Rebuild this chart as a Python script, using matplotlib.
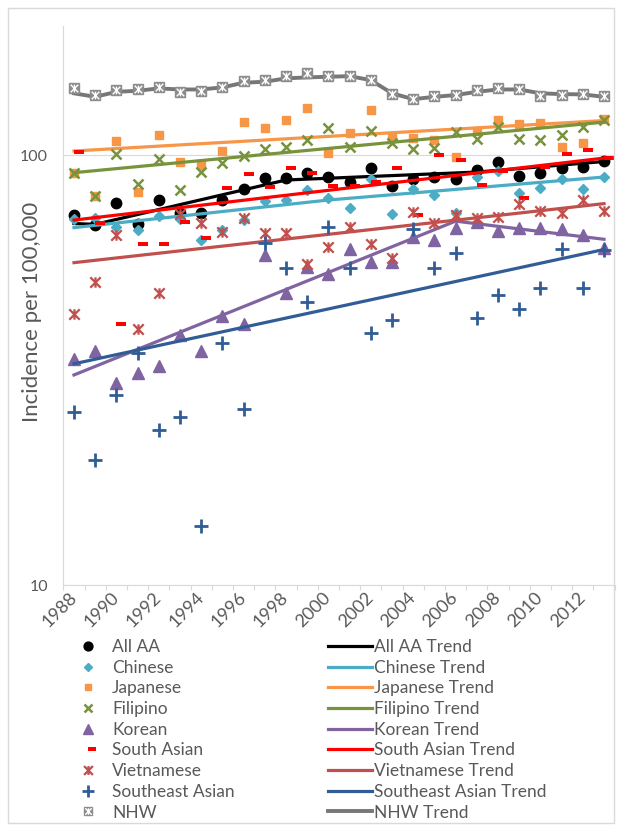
import matplotlib
matplotlib.use('Agg')
import matplotlib.pyplot as plt
from matplotlib.path import Path
from matplotlib.patches import Rectangle
from matplotlib.legend_handler import HandlerTuple
from matplotlib.ticker import NullLocator

plt.rcParams['font.family'] = ['Lato', 'DejaVu Sans']

years = list(range(1988, 2014))

# incidence per 100,000 by year
all_aa = [72.5, 68.8, 77.4, 69.0, 78.6, 73.4, 73.4, 78.6, 83.2, 88.3, 88.3, 91.0, 89.0,
          86.7, 93.1, 84.7, 87.8, 88.7, 87.8, 92.3, 96.5, 89.4, 90.7, 93.1, 93.6, 97.0]
chinese = [70.9, 71.2, 68.1, 66.9, 72.1, 70.9, 63.4, 66.9, 70.6, 78.2, 78.6, 82.9, 79.3,
           75.3, 88.2, 73.1, 83.4, 80.7, 73.3, 89.0, 91.8, 81.6, 83.7, 87.8, 83.4, 88.9]
japanese = [91.0, 80.3, 108.0, 82.2, 111.3, 96.2, 94.8, 102.3, 119.5, 115.4, 120.6, 128.4, 100.9,
            112.7, 127.3, 109.5, 109.4, 108.4, 98.8, 113.7, 120.6, 118.1, 118.9, 104.5, 106.5, 121.1]
filipino = [91.0, 80.3, 100.5, 85.6, 97.7, 82.9, 91.4, 95.7, 99.5, 103.1, 104.2, 108.4, 115.4,
            104.5, 113.7, 106.5, 103.1, 103.7, 113.3, 108.8, 116.4, 108.8, 108.4, 111.3, 116.4, 120.6]
korean = [33.5, 35.1, 29.5, 31.2, 32.3, 38.2, 35.1, 42.2, 40.5, 58.6, 47.8, 55.0, 52.9,
          60.4, 56.5, 56.5, 64.4, 63.4, 67.8, 69.8, 66.6, 67.5, 67.7, 67.3, 65.1, 60.9]
south_asian = [101.8, 69.4, 40.4, 62.1, 62.1, 69.8, 64.1, 83.9, 90.2, 84.4, 93.1, 90.7, 84.7,
               84.7, 86.4, 93.1, 72.5, 100.0, 97.5, 85.4, 91.7, 79.3, 93.8, 100.5, 102.5, 98.2]
vietnamese = [42.7, 50.7, 65.2, 39.3, 47.7, 72.9, 69.4, 66.3, 71.4, 66.0, 66.0, 55.8, 61.2,
              68.1, 62.1, 57.5, 73.7, 69.5, 72.5, 71.2, 71.9, 76.9, 74.1, 73.3, 78.7, 74.2]
se_asian = [25.2, 19.5, 27.6, 34.6, 22.9, 24.6, 13.7, 36.5, 25.6, 62.5, 54.5, 45.6, 68.0,
            54.5, 38.5, 41.3, 67.3, 54.5, 59.3, 41.7, 47.3, 43.8, 49.0, 60.4, 49.0, 60.1]
nhw = [142.9, 137.9, 141.6, 142.1, 144.1, 140.3, 141.1, 144.1, 148.6, 149.4, 152.6, 154.9, 152.6,
       152.6, 149.4, 138.6, 134.9, 137.4, 137.9, 141.6, 142.9, 142.1, 137.2, 137.9, 138.6, 137.2]

# fitted trends (joinpoint years and fitted rates)
aa_trend_x = [1988, 1989, 1998, 2007, 2013]
aa_trend_y = [69.3, 69.0, 87.5, 91.3, 96.6]
chinese_trend_x = [1988, 2000, 2013]
chinese_trend_y = [67.8, 78.6, 88.9]
japanese_trend_x = [1988, 2013]
japanese_trend_y = [102.2, 120.3]
filipino_trend_x = [1988, 2013]
filipino_trend_y = [91.0, 119.3]
korean_trend_x = [1988, 2006, 2013]
korean_trend_y = [30.8, 70.2, 63.7]
south_asian_trend_x = [1988, 2013]
south_asian_trend_y = [70.6, 98.4]
vietnamese_trend_x = [1988, 2013]
vietnamese_trend_y = [56.2, 77.1]
se_asian_trend_x = [1988, 2013]
se_asian_trend_y = [32.7, 60.3]
nhw_trend = [139.2, 136.6, 140.3, 141.1, 142.9, 142.1, 142.1, 143.7, 147.3, 148.1, 150.8, 151.6, 152.1,
             152.6, 149.4, 139.2, 134.9, 136.6, 137.9, 140.3, 142.1, 142.1, 139.2, 138.6, 138.4, 136.6]

TXT = '#595959'
GRID = '#D9D9D9'

# short bar marker sitting to the right of the point
dash = Path([(0, -0.2), (1, -0.2), (1, 0.2), (0, 0.2), (0, -0.2)],
            [Path.MOVETO, Path.LINETO, Path.LINETO, Path.LINETO, Path.CLOSEPOLY])
# asterisk: X plus vertical stroke
star = Path([(-1, -1), (1, 1), (-1, 1), (1, -1), (0, -1), (0, 1)],
            [Path.MOVETO, Path.LINETO, Path.MOVETO, Path.LINETO, Path.MOVETO, Path.LINETO])

fig = plt.figure(figsize=(6.22, 8.27), dpi=100)
ax = fig.add_axes([0.1019, 0.2926, 0.8862, 0.6764])

lw = 2.3
pts, trends = [], []

h, = ax.plot(years, all_aa, ls='none', marker='o', ms=7.5, color='black', label='All AA')
pts.append(h)
h, = ax.plot(aa_trend_x, aa_trend_y, color='black', lw=lw, label='All AA Trend')
trends.append(h)

h, = ax.plot(years, chinese, ls='none', marker='D', ms=5.3, color='#4BACC6', label='Chinese')
pts.append(h)
h, = ax.plot(chinese_trend_x, chinese_trend_y, color='#4BACC6', lw=lw, label='Chinese Trend')
trends.append(h)

h, = ax.plot(years, japanese, ls='none', marker='s', ms=5.8, color='#F79646', label='Japanese')
pts.append(h)
h, = ax.plot(japanese_trend_x, japanese_trend_y, color='#F79646', lw=lw, label='Japanese Trend')
trends.append(h)

h, = ax.plot(years, filipino, ls='none', marker='x', ms=7.5, mew=1.8, color='#77933C', label='Filipino')
pts.append(h)
h, = ax.plot(filipino_trend_x, filipino_trend_y, color='#77933C', lw=lw, label='Filipino Trend')
trends.append(h)

h, = ax.plot(years, korean, ls='none', marker='^', ms=8, color='#8064A2', label='Korean')
pts.append(h)
h, = ax.plot(korean_trend_x, korean_trend_y, color='#8064A2', lw=lw, label='Korean Trend')
trends.append(h)

h, = ax.plot(years, south_asian, ls='none', marker=dash, ms=13.7, mew=0, color='#FF0000', label='South Asian')
pts.append(h)
h, = ax.plot(south_asian_trend_x, south_asian_trend_y, color='#FF0000', lw=lw, label='South Asian Trend')
trends.append(h)

h, = ax.plot(years, vietnamese, ls='none', marker=star, ms=7.5, mew=1.6, mfc='none',
             color='#C0504D', label='Vietnamese')
pts.append(h)
h, = ax.plot(vietnamese_trend_x, vietnamese_trend_y, color='#C0504D', lw=lw, label='Vietnamese Trend')
trends.append(h)

h, = ax.plot(years, se_asian, ls='none', marker='+', ms=9.5, mew=2.0, color='#315D96', label='Southeast Asian')
pts.append(h)
h, = ax.plot(se_asian_trend_x, se_asian_trend_y, color='#315D96', lw=lw, label='Southeast Asian Trend')
trends.append(h)

h1, = ax.plot(years, nhw, ls='none', marker='s', ms=7.2, color='#8C8C8C')
h2, = ax.plot(years, nhw, ls='none', marker=star, ms=5.5, mew=1.0, mfc='none', color='white')
pts.append((h1, h2))
h, = ax.plot(years, nhw_trend, color='#777777', lw=2.8, label='NHW Trend', zorder=1.9)
trends.append(h)

ax.set_yscale('log')
ax.set_ylim(10, 200)
ax.set_yticks([10, 100], ['10', '100'])
ax.yaxis.set_minor_locator(NullLocator())
ax.set_xlim(1987.5, 2013.5)
ax.set_xticks(years[::2], [str(y) for y in years[::2]])
ax.set_xticks([y - 0.5 for y in years] + [2013.5], minor=True)

ax.tick_params(axis='y', length=0, pad=11, labelsize=11.5, labelcolor=TXT)
ax.tick_params(axis='x', which='major', length=0, pad=7, labelsize=13, labelcolor=TXT)
ax.tick_params(axis='x', which='minor', length=3.5, color=GRID, width=0.8)
for lab in ax.get_xticklabels():
    lab.set_rotation(45)
    lab.set_ha('right')
    lab.set_va('center')
    lab.set_rotation_mode('anchor')

ax.yaxis.grid(True, color=GRID, lw=0.8)
ax.set_axisbelow(True)
for s in ['top', 'right']:
    ax.spines[s].set_visible(False)
for s in ['left', 'bottom']:
    ax.spines[s].set_color(GRID)
    ax.spines[s].set_linewidth(0.8)

fig.text(32 / 622, 1 - 312 / 827, 'Incidence per 100,000', rotation=90,
         ha='center', va='center', fontsize=16, color=TXT)

labels = ['All AA', 'Chinese', 'Japanese', 'Filipino', 'Korean', 'South Asian',
          'Vietnamese', 'Southeast Asian', 'NHW']
labels = labels + [l + ' Trend' for l in labels]
fig.legend(pts + trends, labels, ncol=2, loc='upper left',
           bbox_to_anchor=(66 / 622, 1 - 639 / 827), frameon=False,
           fontsize=12.5, labelcolor=TXT, handlelength=2.5, handletextpad=0.15,
           columnspacing=5.4, labelspacing=0.27, borderpad=0, borderaxespad=0,
           markerscale=0.85, handler_map={tuple: HandlerTuple(ndivide=1)})

fig.patches.append(Rectangle((8 / 622, 4 / 827), 606 / 622, 815 / 827, transform=fig.transFigure,
                             fill=False, edgecolor=GRID, lw=1.0))

fig.savefig('out.png', dpi=100)
